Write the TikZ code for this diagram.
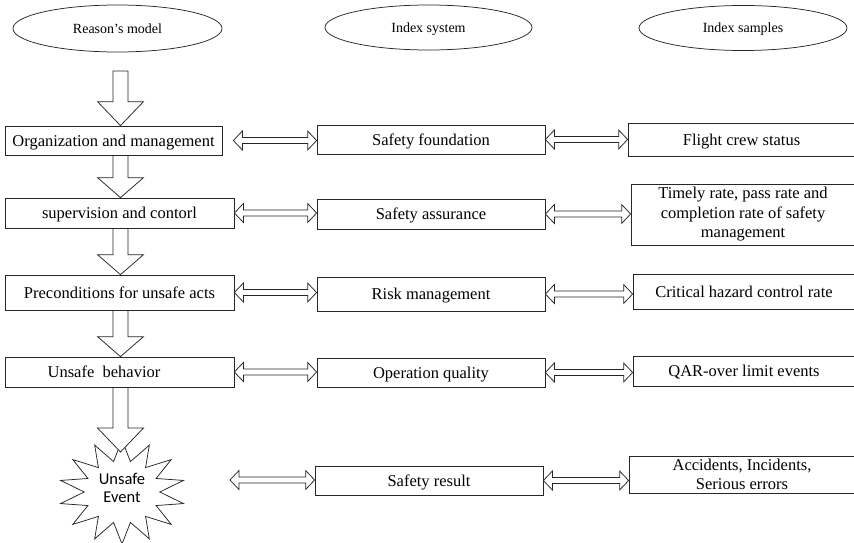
\documentclass[tikz,border=0pt]{standalone}
\usepackage{fontspec}
\setmainfont{Liberation Serif}[Ligatures=TeX]
\newfontfamily\serifface{Liberation Serif}[Ligatures=TeX]
\newfontfamily\starfont{Carlito}
\usetikzlibrary{calc,shapes.geometric}
\tikzset{
  ln/.style={draw=black!85, line width=0.75pt},
  box/.style={ln, rectangle, inner sep=0pt, align=center, font=\serifface\fontsize{16.5}{19.5}\selectfont},
  one/.style={text height=11pt, text depth=0pt},
  oval/.style={ln, ellipse, inner sep=0pt, text height=9.5pt, text depth=0pt, font=\serifface\fontsize{14}{16}\selectfont},
  harrow/.style={ln, fill=white, line join=miter},
}
\newcommand{\hdbl}[2]{\draw[harrow] let \p1=(#1), \p2=(#2) in
  (\x1,\y1) -- ++(9,9.5) -- ++(0,-6.5) -- (\x2-9,\y1+3) -- ++(0,6.5) -- (\x2,\y1)
  -- ++(-9,-9.5) -- ++(0,6.5) -- (\x1+9,\y1-3) -- ++(0,-6.5) -- cycle;}
\newcommand{\hdown}[3]{\draw[harrow] let \p1=(#1), \p2=(#2) in
  (\x1-7.5,\y1) -- (\x1+7.5,\y1) -- (\x1+7.5,\y2+#3) -- (\x1+23,\y2+#3) -- (\x1,\y2)
  -- (\x1-23,\y2+#3) -- (\x1-7.5,\y2+#3) -- cycle;}
\begin{document}
\begin{tikzpicture}[x=1pt,y=1pt]
\useasboundingbox (0,0) rectangle (854,-543);
% header ellipses
\node[oval, minimum width=209, minimum height=47] (e1) at (117.5,-28.5) {Reason's model};
\node[oval, minimum width=207, minimum height=45] (e2) at (428.5,-27.5) {Index system};
\node[oval, minimum width=208, minimum height=45] (e3) at (743,-28) {Index samples};
% left column
\node[box, one, minimum width=217, minimum height=29] (org) at (113.5,-140.5) {Organization and management};
\node[box, one, minimum width=229, minimum height=30] (sup) at (119.5,-213) {supervision and contorl};
\node[box, one, minimum width=229, minimum height=35] (pre) at (119.5,-292.5) {Preconditions for unsafe acts};
\node[box, one, minimum width=229, minimum height=30] (ub) at (119.5,-372) {Unsafe\ \ behavior\hspace*{31pt}};
% middle column
\node[box, one, minimum width=228, minimum height=29] (sf) at (431,-139.5) {Safety foundation};
\node[box, one, minimum width=228, minimum height=30] (sa) at (431,-214) {Safety assurance};
\node[box, one, minimum width=228, minimum height=34] (rm) at (431,-294) {Risk management};
\node[box, one, minimum width=228, minimum height=29] (oq) at (431,-372.5) {Operation quality};
\node[box, one, minimum width=228, minimum height=29] (sr) at (429,-480.5) {Safety result};
% right column
\node[box, one, minimum width=227, minimum height=33] (fc) at (741.5,-139.5) {Flight crew status};
\node[box, minimum width=224, minimum height=61] (tr) at (743,-214.5) {Timely rate, pass rate and\\completion rate of safety\\management};
\node[box, one, minimum width=222, minimum height=35] (ch) at (744,-291.5) {Critical hazard control rate};
\node[box, one, minimum width=222, minimum height=30] (qar) at (744,-371) {QAR-over limit events};
\node[box, minimum width=226, minimum height=37] (acc) at (742,-474.5) {Accidents, Incidents,\\Serious errors};
% star
\coordinate (sc) at (122,-492);
\begin{scope}[shift={(sc)}]
\draw[ln, line join=miter] (90:63pt and 52pt)
  \foreach \i [evaluate=\i as \r using {ifthenelse(mod(\i,2)==0,1,0.6)}] in {1,...,27} {
    -- ({90+\i*360/28}:{63pt*\r} and {52pt*\r}) } -- cycle;
\end{scope}
\node[align=center, inner sep=0pt, font=\starfont\fontsize{16.5}{18}\selectfont] (star) at (122,-488) {Unsafe\\Event};
% vertical arrows
\coordinate (ax) at (120.5,-71);
\coordinate (tip) at (120.5,-452);
\hdown{ax}{org.north -| ax}{24}
\hdown{org.south -| ax}{sup.north -| ax}{20}
\hdown{sup.south -| ax}{pre.north -| ax}{20}
\hdown{pre.south -| ax}{ub.north -| ax}{20}
\hdown{ub.south -| ax}{tip}{24}
% horizontal double arrows
\coordinate (l5) at (230,-480);
\hdbl{$(org.east)+(11,0)$}{sf.west}
\hdbl{sup.east}{sa.west}
\hdbl{pre.east}{rm.west}
\hdbl{ub.east}{oq.west}
\hdbl{l5}{sr.west}
\hdbl{sf.east}{fc.west}
\hdbl{sa.east}{tr.west}
\hdbl{rm.east}{ch.west}
\hdbl{oq.east}{qar.west}
\hdbl{sr.east}{acc.west}
\end{tikzpicture}
\end{document}
